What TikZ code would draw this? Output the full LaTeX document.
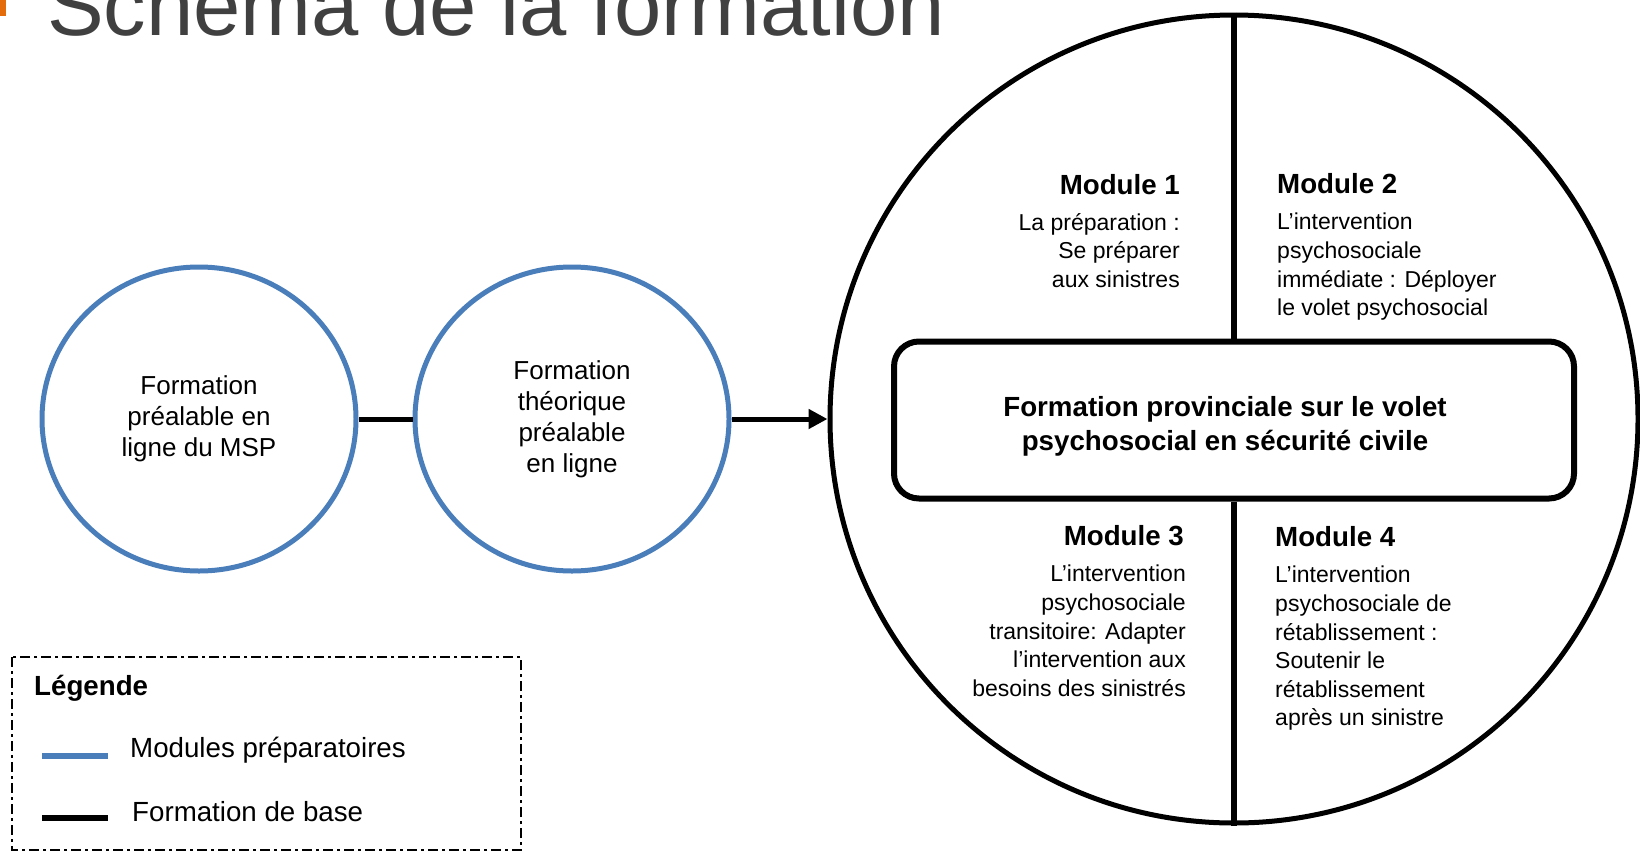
\documentclass[tikz,border=0pt]{standalone}
\usepackage{fontspec}
\setmainfont{Liberation Sans}
\usetikzlibrary{positioning,shapes.geometric,arrows.meta}
\definecolor{steel}{HTML}{4A7EBB}
\definecolor{ember}{HTML}{E46C0A}
\definecolor{charcoal}{HTML}{404040}

\begin{document}
\begin{tikzpicture}[x=1pt, y=-1pt,
    prep/.style={draw=steel, line width=5pt, ellipse, minimum width=314pt, minimum height=304pt,
        inner sep=0pt, align=center, font=\fontsize{26}{31}\selectfont},
    coreline/.style={draw=black, line width=5pt},
    modtitle/.style={inner sep=0pt, font=\bfseries\fontsize{27.7}{32}\selectfont},
    modtext/.style={inner sep=0pt, font=\fontsize{23}{28.6}\selectfont},
    legendtext/.style={anchor=west, inner sep=0pt, font=\fontsize{27.7}{32}\selectfont}]
    \useasboundingbox (0,0) rectangle (1640,854);

    % Title
    \fill[ember] (0,0) rectangle (6,16);
    \node[anchor=base west, inner sep=0pt, text=charcoal, font=\fontsize{85}{100}\selectfont] (title) at (47,35) {Schéma de la formation};

    % Preparatory modules
    \node[prep] (online) at (199,419) {Formation\\préalable en\\ligne du MSP};
    \node[prep] (theory) at (572,419) {Formation\\théorique\\préalable\\en ligne};

    % Main training circle
    \node[draw, circle, line width=5pt, minimum size=808pt, inner sep=0pt] (main) at (1234,419) {};
    \node[draw, line width=6pt, rounded corners=25pt, minimum width=680pt, minimum height=157pt] (core) at (1234,420) {};
    \node[align=center, inner sep=0pt, font=\bfseries\fontsize{27.7}{34}\selectfont] (coretext) at (1225,426)
        {Formation provinciale sur le volet\\psychosocial en sécurité civile};
    \draw[coreline, line width=6pt] (main.north) -- (core.north);
    \draw[coreline, line width=6pt] (core.south) -- (main.south);

    % Connectors
    \draw[coreline] (online) -- (theory);
    \draw[coreline, -{Triangle[length=19pt, width=19pt]}] (theory) -- (main);

    % Modules
    \node[modtitle, anchor=north east] (m1title) at (1180,174) {Module 1};
    \node[modtext, anchor=north east, align=right] (m1text) at (1180,213) {La préparation :\\Se préparer\\aux sinistres};
    \node[modtitle, anchor=north west] (m2title) at (1277,173) {Module 2};
    \node[modtext, anchor=north west, align=left] (m2text) at (1277,213) {L’intervention\\psychosociale\\immédiate : Déployer\\le volet psychosocial};
    \node[modtitle, anchor=north east] (m3title) at (1184,525) {Module 3};
    \node[modtext, anchor=north east, align=right] (m3text) at (1186,565) {L’intervention\\psychosociale\\transitoire: Adapter\\l’intervention aux\\besoins des sinistrés};
    \node[modtitle, anchor=north west] (m4title) at (1275,526) {Module 4};
    \node[modtext, anchor=north west, align=left] (m4text) at (1275,566) {L’intervention\\psychosociale de\\rétablissement :\\Soutenir le\\rétablissement\\après un sinistre};

    % Legend
    \draw[line width=2pt, dash pattern=on 10pt off 4pt on 3pt off 4pt] (12,657) rectangle (521,850);
    \node[anchor=west, inner sep=0pt, font=\bfseries\fontsize{27.7}{32}\selectfont] (legend) at (34,688) {Légende};
    \draw[steel, line width=6pt] (42,756) -- (108,756);
    \node[legendtext] (prepkey) at (130,750) {Modules préparatoires};
    \draw[black, line width=6pt] (42,818) -- (108,818);
    \node[legendtext] (basekey) at (132,812) {Formation de base};
\end{tikzpicture}
\end{document}
